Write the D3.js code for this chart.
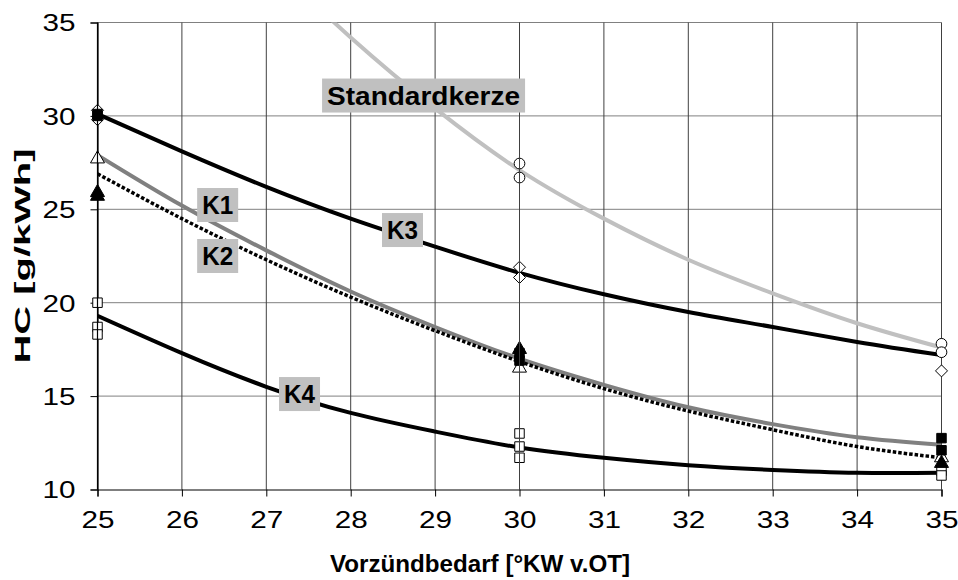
<!DOCTYPE html>
<html><head><meta charset="utf-8">
<script src="https://cdn.jsdelivr.net/npm/d3@7"></script>
<style>body{margin:0;background:#fff}svg{display:block}</style>
</head><body>
<script>
// ---- data ----
const xTicks = [25,26,27,28,29,30,31,32,33,34,35];
const yTicks = [10,15,20,25,30,35];
const curveX = [25,26,27,28,29,30,31,32,33,34,35];
const stdX = [27,28,29,30,31,32,33,34,35];
const standardkerze = [38.4,34.2,30.4,27.1,24.5,22.3,20.5,18.9,17.6];
const k1 = [27.9,25.2,22.8,20.6,18.7,17.0,15.6,14.4,13.5,12.8,12.4];
const k2 = [26.9,24.5,22.3,20.3,18.5,16.85,15.4,14.2,13.2,12.3,11.7];
const k3 = [30.1,28.1,26.2,24.5,23.0,21.6,20.45,19.5,18.7,17.9,17.2];
const k4 = [19.3,17.3,15.5,14.1,13.1,12.25,11.7,11.3,11.05,10.9,10.9];
// measured points [x, y]
const diamonds = [[25,30.3],[25,29.8],[30,21.9],[30,21.35],[35,16.35]];
const filledSquares = [[25,30.1],[25,30.0],[30,17.3],[30,16.9],[35,12.75],[35,12.1]];
const openTriangles = [[25,27.7],[30,16.5],[35,11.7]];
const filledTriangles = [[25,25.9],[25,25.7],[30,17.5],[35,11.4]];
const openCircles = [[30,27.45],[30,26.7],[35,17.8],[35,17.35]];
const openSquares = [[25,20.0],[25,18.7],[25,18.3],[30,13.0],[30,12.3],[30,11.7],[35,11.0],[35,10.75]];
const labels = [
  {text:"Standardkerze", x:27.72, y:31.09},
  {text:"K1", x:26.24, y:25.23},
  {text:"K2", x:26.24, y:22.5},
  {text:"K3", x:28.43, y:23.89},
  {text:"K4", x:27.21, y:15.11}
];

// ---- chart ----
const W=958,H=580;
const svg=d3.select("body").append("svg").attr("width",W).attr("height",H);
const x=d3.scaleLinear().domain([25,35]).range([97.5,941.5]);
const y=d3.scaleLinear().domain([10,35]).range([489.5,22.5]);
const font="Arial, 'Liberation Sans', sans-serif";

svg.append("defs").append("clipPath").attr("id","clip")
  .append("rect").attr("x",x(25)).attr("y",y(35)).attr("width",x(35)-x(25)).attr("height",y(10)-y(35));

// gridlines
const g=svg.append("g");
g.selectAll(".hg").data(yTicks.filter(d=>d>10)).enter().append("line")
  .attr("x1",x(25)).attr("x2",x(35)).attr("y1",d=>y(d)).attr("y2",d=>y(d))
  .attr("stroke","#808080").attr("stroke-width",1);
g.selectAll(".vg").data(xTicks.filter(d=>d>25)).enter().append("line")
  .attr("x1",d=>x(d)).attr("x2",d=>x(d)).attr("y1",y(10)).attr("y2",y(35))
  .attr("stroke","#404040").attr("stroke-width",1);

// axes
const xAxis=svg.append("g").attr("transform",`translate(0,${y(10)})`)
  .call(d3.axisBottom(x).tickValues(xTicks).tickSize(7).tickFormat(d3.format("d")));
const yAxis=svg.append("g").attr("transform",`translate(${x(25)},0)`)
  .call(d3.axisLeft(y).tickValues(yTicks).tickSize(7).tickFormat(d3.format("d")));
[xAxis,yAxis].forEach(a=>{
  a.select(".domain").attr("stroke","#000").attr("stroke-width",1.2);
  a.selectAll(".tick line").attr("stroke","#000");
  a.selectAll("text").attr("font-family",font).attr("font-size",24).attr("fill","#000")
    .attr("textLength",33).attr("lengthAdjust","spacingAndGlyphs");
});
xAxis.selectAll("text").attr("dy","0.71em").attr("y",21);
yAxis.selectAll("text").attr("x",-22).attr("dy","0.35em");

// curves
const plot=svg.append("g").attr("clip-path","url(#clip)");
const line=d3.line().curve(d3.curveNatural);
function draw(xs,ys,color,w,dash){
  plot.append("path").attr("d",line(xs.map((v,i)=>[x(v),y(ys[i])])))
    .attr("fill","none").attr("stroke",color).attr("stroke-width",w)
    .attr("stroke-dasharray",dash||null);
}
draw(stdX,standardkerze,"#c0c0c0",4);
draw(curveX,k3,"#000",4);
draw(curveX,k1,"#808080",4);
draw(curveX,k2,"#000",3.5,"3.5,2");
draw(curveX,k4,"#000",4);

// markers
const mk=svg.append("g");
const sym=(type,size)=>d3.symbol().type(type).size(size);
function markers(data,type,size,fill){
  mk.selectAll(null).data(data).enter().append("path")
    .attr("transform",d=>`translate(${x(d[0])},${y(d[1])})`)
    .attr("d",sym(type,size)())
    .attr("fill",fill).attr("stroke","#000").attr("stroke-width",1);
}
function diamondPath(s){return `M0,${-s}L${s},0L0,${s}L${-s},0Z`;}
mk.selectAll(null).data(diamonds).enter().append("path")
  .attr("transform",d=>`translate(${x(d[0])},${y(d[1])})`)
  .attr("d",diamondPath(6)).attr("fill","#fff").attr("stroke","#000").attr("stroke-width",1);
markers(openCircles,d3.symbolCircle,90,"#fff");
markers(openSquares,d3.symbolSquare,90,"#fff");
markers(openTriangles,d3.symbolTriangle,85,"#fff");
markers(filledSquares,d3.symbolSquare,90,"#000");
markers(filledTriangles,d3.symbolTriangle,85,"#000");
mk.append("line").attr("x1",x(30)).attr("x2",x(30)).attr("y1",y(35)).attr("y2",y(10))
  .attr("stroke","#404040").attr("stroke-width",1);
mk.append("line").attr("x1",x(25)).attr("x2",x(25)).attr("y1",y(35)).attr("y2",y(10))
  .attr("stroke","#000").attr("stroke-width",1.2);

// labels
const lg=svg.append("g");
const labelLen={"Standardkerze":193,"K1":31,"K2":31,"K3":31,"K4":31};
labels.forEach(l=>{
  lg.append("rect").attr("x",x(l.x)-5).attr("y",y(l.y)-17)
    .attr("width",labelLen[l.text]+10).attr("height",34).attr("fill","#c0c0c0");
  lg.append("text").attr("x",x(l.x)).attr("y",y(l.y))
    .attr("font-family",font).attr("font-weight","bold").attr("font-size",25)
    .attr("dy","0.36em").attr("fill","#000")
    .attr("textLength",labelLen[l.text]).attr("lengthAdjust","spacingAndGlyphs").text(l.text);
});

// titles
svg.append("text").attr("x",480).attr("y",572)
  .attr("text-anchor","middle").attr("font-family",font).attr("font-weight","bold")
  .attr("font-size",23).attr("textLength",300).attr("lengthAdjust","spacingAndGlyphs")
  .text("Vorzündbedarf [°KW v.OT]");
svg.append("text").attr("transform",`translate(30,${256}) rotate(-90)`)
  .attr("text-anchor","middle").attr("font-family",font).attr("font-weight","bold")
  .attr("font-size",22).attr("textLength",215).attr("lengthAdjust","spacingAndGlyphs")
  .text("HC [g/kWh]");
</script>
</body></html>
